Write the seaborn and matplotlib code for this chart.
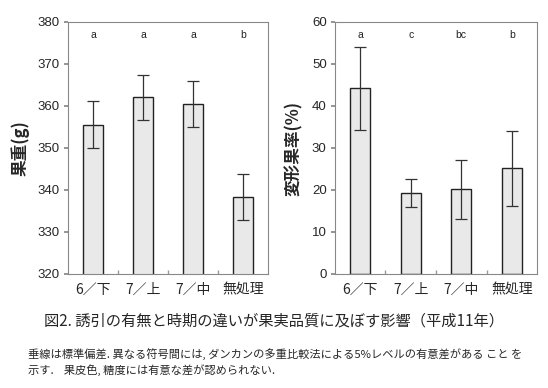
import numpy as np
import pandas as pd
import matplotlib
matplotlib.use("Agg")
import matplotlib.pyplot as plt
import seaborn as sns

# =============================
# Données
# =============================
categories = ["6／下", "7／上", "7／中", "無処理"]

poids_moy = [355.5, 362.1, 360.5, 338.3]
poids_sd = [5.6, 5.4, 5.4, 5.5]
poids_lettres = ["a", "a", "a", "b"]

deform_moy = [44.2, 19.3, 20.2, 25.2]
deform_sd = [9.9, 3.4, 7.0, 8.9]
deform_lettres = ["a", "c", "bc", "b"]

titre = "図2. 誘引の有無と時期の違いが果実品質に及ぼす影響（平成11年）"
note1 = "垂線は標準偏差. 異なる符号間には, ダンカンの多重比較法による5%レベルの有意差がある こと を"
note2 = "示す.    果皮色, 糖度には有意な差が認められない."

sns.set_theme(style="white")
plt.rcParams["font.family"] = ["Noto Sans CJK JP", "DejaVu Sans"]

fig = plt.figure(figsize=(5.48, 3.88), dpi=100)
ax1 = fig.add_axes([68 / 548, 1 - 274 / 388, 200 / 548, 252 / 388])
ax2 = fig.add_axes([335 / 548, 1 - 274 / 388, 202 / 548, 252 / 388])


def trace(ax, moy, sd, lettres, ylim, yticks, ylabel, y_lettre):
    df = pd.DataFrame({"cat": categories, "val": moy})
    sns.barplot(data=df, x="cat", y="val", ax=ax, color="#e9e9e9",
                edgecolor="#222222", linewidth=1.0, width=0.4, saturation=1)
    ax.errorbar(np.arange(len(moy)), moy, yerr=sd, fmt="none",
                ecolor="#333333", elinewidth=0.9, capsize=4, capthick=0.9)
    for i, l in enumerate(lettres):
        ax.text(i, y_lettre, l, ha="center", va="center", fontsize=7.5,
                family="Liberation Sans", color="#222222")
    ax.set_xlim(-0.5, 3.5)
    ax.set_ylim(*ylim)
    ax.set_yticks(yticks)
    ax.set_xlabel("")
    ax.set_ylabel(ylabel, fontsize=12, fontweight="bold", labelpad=6)
    ax.tick_params(axis="y", labelsize=9.5, length=3, direction="out",
                   color="#888888", left=True, pad=3)
    ax.tick_params(axis="x", labelsize=10, length=0, pad=6)
    for lab in ax.get_yticklabels():
        lab.set_family("Liberation Sans")
    ax.set_xticks([0.5, 1.5, 2.5], minor=True)
    ax.tick_params(axis="x", which="minor", direction="in", length=3,
                   color="#999999", bottom=True)
    for s in ax.spines.values():
        s.set_color("#888888")
        s.set_linewidth(0.8)


trace(ax1, poids_moy, poids_sd, poids_lettres, (320, 380),
      np.arange(320, 381, 10), "果重(g)", 377)
trace(ax2, deform_moy, deform_sd, deform_lettres, (0, 60),
      np.arange(0, 61, 10), "変形果率(%)", 57)

fig.text(0.5, 1 - 321 / 388, titre, ha="center", va="center", fontsize=11)
fig.text(28 / 548, 1 - 354 / 388, note1, ha="left", va="center", fontsize=8.1)
fig.text(28 / 548, 1 - 370 / 388, note2, ha="left", va="center", fontsize=8.1)

fig.savefig("out.png", dpi=100)
